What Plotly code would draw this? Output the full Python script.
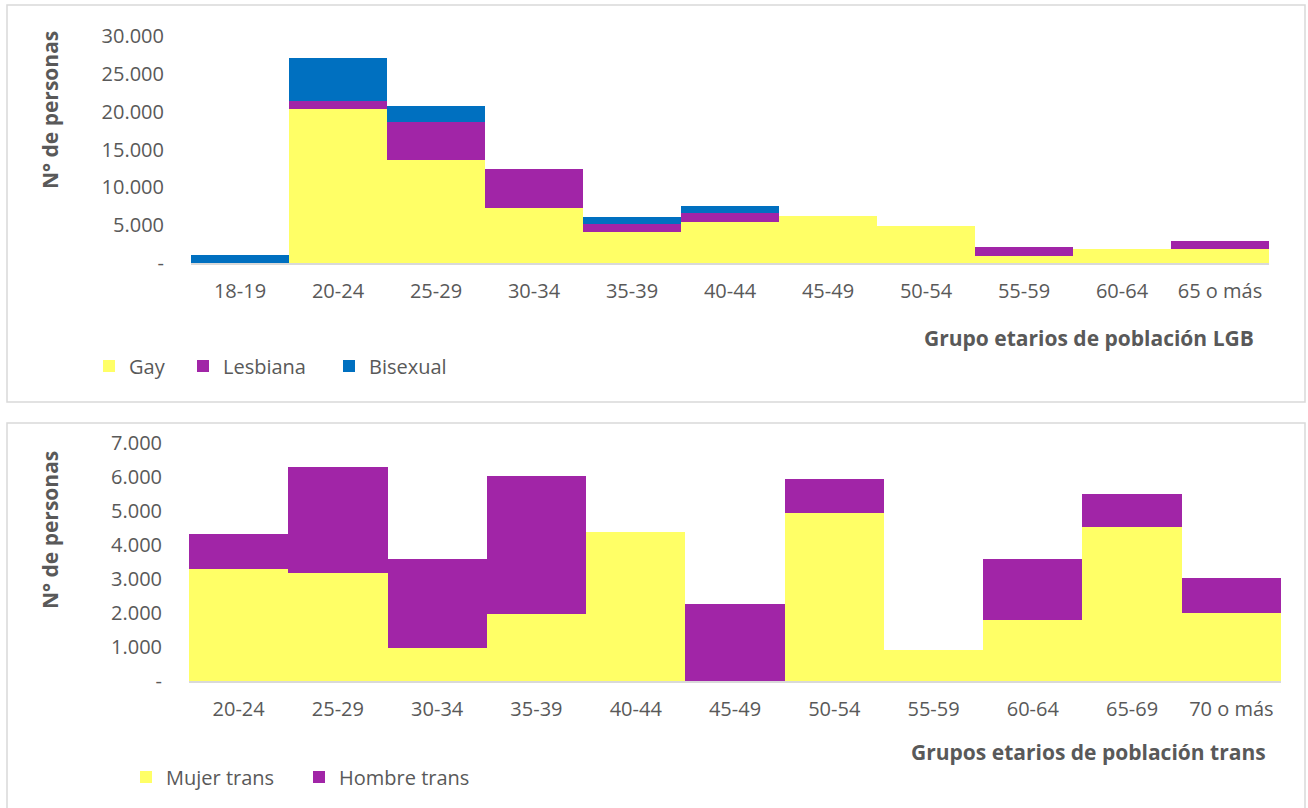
import plotly.graph_objects as go

W, H = 1308, 808

# ---------------- data ----------------
lgb_groups = ["18-19", "20-24", "25-29", "30-34", "35-39", "40-44",
              "45-49", "50-54", "55-59", "60-64", "65 o más"]
gay = [0, 20400, 13600, 7300, 4150, 5400, 6150, 4950, 950, 1850, 1850]
lesbiana = [0, 1050, 5000, 5100, 1050, 1150, 0, 0, 1150, 0, 1000]
bisexual = [1000, 5650, 2150, 0, 900, 950, 0, 0, 0, 0, 0]

trans_groups = ["20-24", "25-29", "30-34", "35-39", "40-44", "45-49",
                "50-54", "55-59", "60-64", "65-69", "70 o más"]
mujer_trans = [3280, 3170, 980, 1960, 4380, 0, 4940, 920, 1800, 4540, 2000]
hombre_trans = [1030, 3110, 2620, 4070, 0, 2270, 990, 0, 1780, 950, 1040]

top_tickvals = [0, 5000, 10000, 15000, 20000, 25000, 30000]
top_ticktext = ["-", "5.000", "10.000", "15.000", "20.000", "25.000", "30.000"]
bot_tickvals = [0, 1000, 2000, 3000, 4000, 5000, 6000, 7000]
bot_ticktext = ["-", "1.000", "2.000", "3.000", "4.000", "5.000", "6.000", "7.000"]

YELLOW = "#FFFF66"
PURPLE = "#A125A7"
BLUE = "#0070C0"
GRAY = "#595959"
FONT = "Open Sans"


def px_x(p):
    return p / W


def px_y(p):
    return 1 - p / H


fig = go.Figure()

top_series = [("Gay", gay, YELLOW, "legend"),
              ("Lesbiana", lesbiana, PURPLE, "legend2"),
              ("Bisexual", bisexual, BLUE, "legend3")]
for name, vals, col, lg in top_series:
    fig.add_trace(go.Bar(x=lgb_groups, y=vals, name=name, marker_color=col,
                         marker_line_width=0, xaxis="x", yaxis="y", legend=lg,
                         showlegend=True))

bot_series = [("Mujer trans", mujer_trans, YELLOW, "legend4"),
              ("Hombre trans", hombre_trans, PURPLE, "legend5")]
for name, vals, col, lg in bot_series:
    fig.add_trace(go.Bar(x=trans_groups, y=vals, name=name, marker_color=col,
                         marker_line_width=0, xaxis="x2", yaxis="y2", legend=lg,
                         showlegend=True))

tickfont = dict(family=FONT, size=20, color=GRAY)
xcommon = dict(type="category", showgrid=False, zeroline=False, showline=True,
               linecolor="#D9D9D9", linewidth=2, ticks="", tickfont=tickfont,
               ticklabelstandoff=9, fixedrange=True, automargin=False)
ycommon = dict(showgrid=False, zeroline=False, showline=False, ticks="",
               tickfont=tickfont, ticklabelstandoff=26, fixedrange=True,
               automargin=False)

legcommon = dict(orientation="h", xanchor="left", yanchor="middle",
                 bgcolor="rgba(0,0,0,0)", borderwidth=0,
                 font=dict(family=FONT, size=20, color=GRAY))

fig.update_layout(
    width=W, height=H,
    margin=dict(l=0, r=0, t=0, b=0, pad=0, autoexpand=False),
    showlegend=True,
    paper_bgcolor="white", plot_bgcolor="white",
    barmode="stack", bargap=0,
    font=dict(family=FONT, color=GRAY),
    xaxis=dict(domain=[px_x(191), px_x(1269)], anchor="y", **xcommon),
    yaxis=dict(domain=[px_y(263), px_y(36)], anchor="x", range=[0, 30000],
               tickvals=top_tickvals, ticktext=top_ticktext, **ycommon),
    xaxis2=dict(domain=[px_x(189), px_x(1281)], anchor="y2", **xcommon),
    yaxis2=dict(domain=[px_y(681), px_y(443)], anchor="x2", range=[0, 7000],
                tickvals=bot_tickvals, ticktext=bot_ticktext, **ycommon),
    legend=dict(x=px_x(89), y=px_y(366), **legcommon),
    legend2=dict(x=px_x(183), y=px_y(366), **legcommon),
    legend3=dict(x=px_x(329), y=px_y(366), **legcommon),
    legend4=dict(x=px_x(126), y=px_y(777), **legcommon),
    legend5=dict(x=px_x(299), y=px_y(777), **legcommon),
    shapes=[
        dict(type="rect", xref="paper", yref="paper",
             x0=px_x(7), x1=px_x(1305), y0=px_y(402), y1=px_y(5),
             line=dict(color="#D9D9D9", width=1.5), fillcolor="rgba(0,0,0,0)",
             layer="below"),
        dict(type="rect", xref="paper", yref="paper",
             x0=px_x(7), x1=px_x(1305), y0=px_y(812), y1=px_y(423),
             line=dict(color="#D9D9D9", width=1.5), fillcolor="rgba(0,0,0,0)",
             layer="below"),
    ],
    annotations=[
        dict(text="<b>N° de personas</b>", textangle=-90, xref="paper", yref="paper",
             x=px_x(50), y=px_y(110), xanchor="center", yanchor="middle",
             showarrow=False, font=dict(family=FONT, size=21, color=GRAY)),
        dict(text="<b>N° de personas</b>", textangle=-90, xref="paper", yref="paper",
             x=px_x(50), y=px_y(530), xanchor="center", yanchor="middle",
             showarrow=False, font=dict(family=FONT, size=21, color=GRAY)),
        dict(text="<b>Grupo etarios de población LGB</b>", xref="paper", yref="paper",
             x=px_x(1256), y=px_y(338), xanchor="right", yanchor="middle",
             showarrow=False, font=dict(family=FONT, size=21, color=GRAY)),
        dict(text="<b>Grupos etarios de población trans</b>", xref="paper", yref="paper",
             x=px_x(1268), y=px_y(752), xanchor="right", yanchor="middle",
             showarrow=False, font=dict(family=FONT, size=21, color=GRAY)),
    ],
)

fig.write_html(
    "out.html",
    config={"displayModeBar": False},
    post_script="document.body.style.margin='0';document.body.style.overflow='hidden';",
)
